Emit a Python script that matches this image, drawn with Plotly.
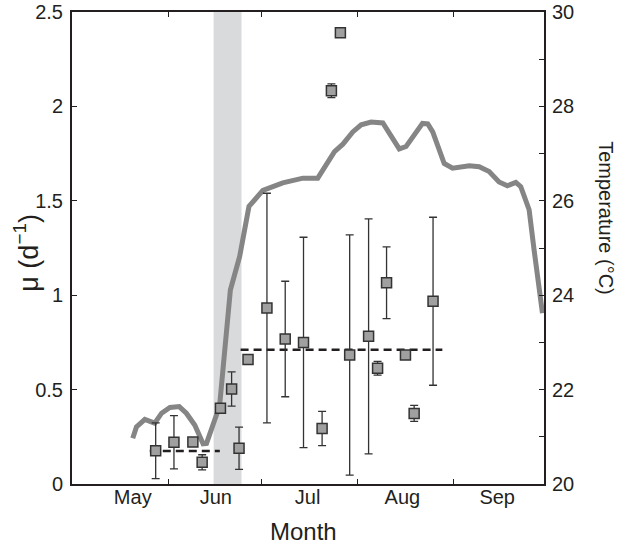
import plotly.graph_objects as go

# ---- data ----
# x values are days since 1 May
month_names = ["May", "Jun", "Jul", "Aug", "Sep"]
month_label_days = [19.6, 46.4, 76.0, 106.6, 137.2]
month_start_days = [31, 61, 92, 123]

mu_day = [27.0, 32.9, 39.0, 42.0, 47.9, 51.5, 53.9, 56.8, 62.9, 68.8, 74.7,
          80.7, 83.7, 86.6, 89.6, 95.7, 98.6, 101.5, 107.6, 110.4, 116.5]
mu_val = [0.176, 0.221, 0.222, 0.115, 0.401, 0.503, 0.189, 0.660, 0.932, 0.768, 0.750,
          0.294, 2.083, 2.390, 0.683, 0.782, 0.613, 1.066, 0.683, 0.374, 0.968]
mu_err = [0.148, 0.141, 0.0, 0.040, 0.0, 0.091, 0.112, 0.0, 0.608, 0.306, 0.557,
          0.091, 0.036, 0.012, 0.636, 0.622, 0.036, 0.190, 0.0, 0.042, 0.445]

temp_day = [19.6, 20.8, 23.5, 26.7, 28.9, 31.6, 34.6, 36.9, 39.6, 41.2, 42.3, 43.4,
            45.0, 46.8, 47.7, 48.7, 51.1, 54.1, 57.1, 61.6, 68.0, 74.5, 79.3, 82.0,
            84.7, 87.4, 90.6, 93.3, 96.5, 100.3, 103.0, 105.6, 107.8, 113.1, 114.8,
            116.4, 120.1, 122.8, 128.2, 131.4, 134.6, 137.8, 140.5, 143.2, 144.8,
            147.5, 149.1, 150.7, 151.8]
temp_val = [20.97, 21.21, 21.37, 21.29, 21.50, 21.62, 21.64, 21.50, 21.25, 21.04, 20.85, 20.86,
            21.14, 21.50, 21.71, 22.49, 24.11, 24.82, 25.88, 26.22, 26.38, 26.48, 26.48, 26.76,
            27.04, 27.20, 27.46, 27.61, 27.67, 27.65, 27.36, 27.10, 27.15, 27.64, 27.63,
            27.46, 26.79, 26.69, 26.74, 26.72, 26.62, 26.40, 26.32, 26.39, 26.30,
            25.81, 24.96, 24.18, 23.62]

mean1_days = [25.1, 47.7]
mean1_val = 0.175
mean2_days = [54.4, 119.5]
mean2_val = 0.711

shade_days = [45.7, 54.7]

mu_ticks = [0, 0.5, 1, 1.5, 2, 2.5]
mu_ticktext = ["0", "0.5", "1", "1.5", "2", "2.5"]
temp_ticks = list(range(20, 31))
temp_ticktext = [str(t) if t % 2 == 0 else "" for t in temp_ticks]

X_RANGE = [0, 152.3]
INK = "#231f20"
FONT = "Liberation Sans, Arial, Helvetica, sans-serif"

fig = go.Figure()

# temperature (right axis) -> primary y so it is drawn below the μ data
fig.add_trace(go.Scatter(
    x=temp_day, y=temp_val, mode="lines",
    line=dict(color="#858585", width=5), yaxis="y", xaxis="x",
    showlegend=False, hoverinfo="skip"))

# mean dashed lines (μ axis)
fig.add_trace(go.Scatter(
    x=mean1_days, y=[mean1_val, mean1_val], mode="lines",
    line=dict(color=INK, width=2.5, dash="8px,5px"), yaxis="y2", xaxis="x",
    showlegend=False))
fig.add_trace(go.Scatter(
    x=mean2_days, y=[mean2_val, mean2_val], mode="lines",
    line=dict(color=INK, width=2.5, dash="8px,5px"), yaxis="y2", xaxis="x",
    showlegend=False))

# μ points with error bars
fig.add_trace(go.Scatter(
    x=mu_day, y=mu_val, mode="markers", yaxis="y2", xaxis="x",
    marker=dict(symbol="square", size=10, color="#a0a0a0",
                line=dict(color="#333333", width=1.5)),
    error_y=dict(type="data", array=mu_err, visible=True,
                 color="#333333", thickness=1.3, width=4),
    showlegend=False))

fig.add_shape(type="rect", xref="x", yref="paper",
              x0=shade_days[0], x1=shade_days[1], y0=0, y1=1,
              fillcolor="#d9dadc", line=dict(width=0), layer="below")

fig.update_layout(
    width=619, height=551,
    margin=dict(l=72, r=75, t=12, b=67, autoexpand=False),
    paper_bgcolor="white", plot_bgcolor="white",
    font=dict(family=FONT, color=INK, size=20),
    xaxis=dict(
        range=X_RANGE, tickmode="array", tickvals=month_label_days,
        ticktext=month_names, ticks="", automargin=False, ticklabelstandoff=-6,
        minor=dict(tickmode="array", tickvals=month_start_days, ticks="inside",
                   ticklen=5, tickwidth=1.3, tickcolor=INK),
        showline=True, linewidth=2, linecolor=INK, mirror="allticks",
        showgrid=False, zeroline=False, tickfont=dict(size=20)),
    yaxis=dict(
        range=[20, 30], side="right", tickmode="array",
        tickvals=temp_ticks, ticktext=temp_ticktext, automargin=False,
        ticks="inside", ticklen=5, tickwidth=1.3, tickcolor=INK, ticklabelstandoff=2,
        showline=True, linewidth=2, linecolor=INK, ticklabeloverflow="allow",
        showgrid=False, zeroline=False, tickfont=dict(size=20)),
    yaxis2=dict(
        range=[0, 2.5], overlaying="y", side="left", anchor="x",
        tickmode="array", tickvals=mu_ticks, ticktext=mu_ticktext, automargin=False,
        ticks="inside", ticklen=5, tickwidth=1.3, tickcolor=INK, ticklabelstandoff=3,
        showline=True, linewidth=2, linecolor=INK, ticklabeloverflow="allow",
        showgrid=False, zeroline=False, tickfont=dict(size=20)),
    annotations=[
        dict(text="Month", xref="paper", yref="paper", x=0.4905, y=-0.10,
             xanchor="center", yanchor="middle", showarrow=False,
             font=dict(size=24)),
        dict(text="μ (d<sup>−1</sup>)", xref="paper", yref="paper", x=-0.0975, y=0.49,
             xanchor="center", yanchor="middle", showarrow=False, textangle=-90,
             font=dict(size=27)),
        dict(text="Temperature (°C)", xref="paper", yref="paper", x=1.131, y=0.5636,
             xanchor="center", yanchor="middle", showarrow=False, textangle=90,
             font=dict(size=20)),
    ],
)

fig.write_html("out.html", config={"displayModeBar": False},
               post_script="document.body.style.margin='0';")
